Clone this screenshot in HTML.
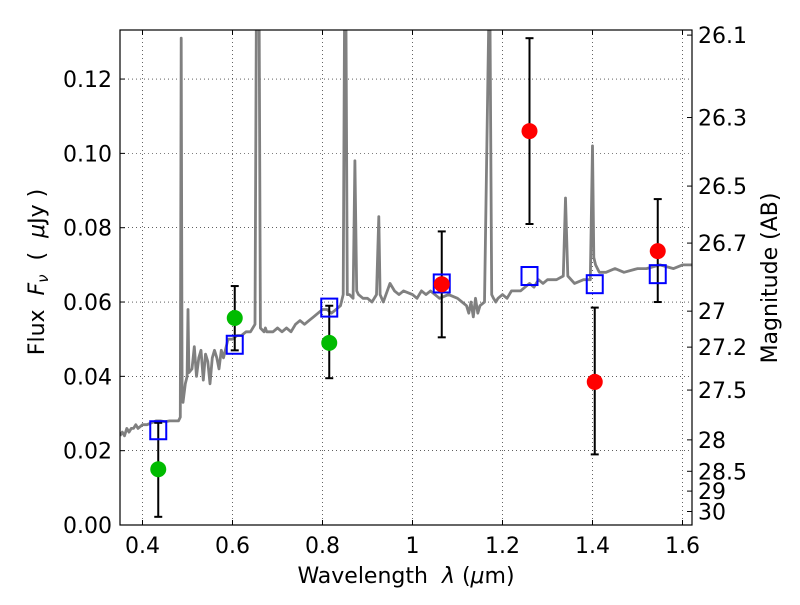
<!DOCTYPE html>
<html><head><meta charset="utf-8"><style>
body{margin:0;background:#fff}
svg text{font-family:"DejaVu Sans","Liberation Sans",sans-serif;fill:#000}
</style></head><body>
<svg id="chart" width="800" height="600" xmlns="http://www.w3.org/2000/svg"></svg>
<script>
const xTicks=[0.4,0.6,0.8,1,1.2,1.4,1.6];
const yTicks=[0,0.02,0.04,0.06,0.08,0.10,0.12];
const yTickLabels=["0.00","0.02","0.04","0.06","0.08","0.10","0.12"];
const magTicks=[26.1,26.3,26.5,26.7,27,27.2,27.5,28,28.5,29,30];
const specWl=[0.35,0.355,0.36,0.365,0.37,0.375,0.38,0.385,0.39,0.40,0.41,0.42,0.43,0.44,0.45,0.46,0.47,0.48,0.484,0.486,0.488,0.49,0.495,0.499,0.501,0.503,0.51,0.515,0.52,0.525,0.53,0.535,0.54,0.545,0.55,0.555,0.56,0.565,0.57,0.575,0.58,0.59,0.6,0.61,0.62,0.63,0.64,0.65,0.653,0.656,0.659,0.662,0.67,0.673,0.676,0.69,0.70,0.71,0.72,0.73,0.74,0.75,0.76,0.77,0.78,0.79,0.8,0.81,0.82,0.83,0.84,0.846,0.849,0.852,0.855,0.86,0.868,0.872,0.876,0.88,0.89,0.9,0.91,0.92,0.925,0.928,0.935,0.95,0.96,0.97,0.98,1.0,1.01,1.02,1.03,1.04,1.06,1.08,1.10,1.11,1.12,1.125,1.13,1.135,1.14,1.145,1.15,1.16,1.17,1.172,1.176,1.18,1.185,1.19,1.2,1.21,1.22,1.24,1.26,1.27,1.28,1.29,1.3,1.32,1.335,1.34,1.345,1.36,1.38,1.395,1.4,1.403,1.407,1.415,1.43,1.45,1.47,1.5,1.52,1.55,1.58,1.6,1.62];
const specFlux=[0.024,0.025,0.024,0.026,0.025,0.026,0.026,0.027,0.026,0.027,0.027,0.0275,0.028,0.028,0.0278,0.028,0.028,0.028,0.029,0.131,0.035,0.033,0.038,0.04,0.058,0.041,0.042,0.048,0.04,0.045,0.047,0.039,0.046,0.044,0.038,0.045,0.047,0.045,0.042,0.047,0.045,0.05,0.05,0.051,0.051,0.052,0.052,0.054,0.14,0.14,0.14,0.053,0.052,0.053,0.052,0.052,0.053,0.052,0.053,0.052,0.054,0.055,0.054,0.055,0.056,0.057,0.058,0.058,0.057,0.058,0.059,0.062,0.14,0.14,0.062,0.062,0.061,0.098,0.063,0.062,0.061,0.061,0.06,0.062,0.083,0.062,0.06,0.065,0.063,0.062,0.063,0.062,0.061,0.063,0.062,0.063,0.061,0.062,0.061,0.06,0.059,0.057,0.06,0.056,0.061,0.057,0.059,0.06,0.14,0.14,0.062,0.061,0.06,0.061,0.062,0.061,0.063,0.063,0.065,0.064,0.066,0.065,0.066,0.066,0.067,0.088,0.067,0.065,0.066,0.066,0.102,0.072,0.07,0.068,0.068,0.069,0.068,0.069,0.069,0.07,0.069,0.07,0.07];
const photWl=[0.435,0.605,0.815,1.065,1.26,1.405,1.545];
const photFlux=[0.015,0.0557,0.049,0.0648,0.106,0.0385,0.0737];
const photLo=[0.0022,0.047,0.0395,0.0505,0.081,0.019,0.06];
const photHi=[0.0275,0.0643,0.059,0.079,0.131,0.0585,0.0877];
const photColor=["#00bb00","#00bb00","#00bb00","#ff0000","#ff0000","#ff0000","#ff0000"];
const modelWl=[0.435,0.605,0.815,1.065,1.26,1.405,1.545];
const modelFlux=[0.0255,0.0485,0.0585,0.065,0.067,0.0648,0.0675];

const L=120,R=692,T=30,B=525,XMIN=0.35,YMAX=0.1332;
const xs=v=>L+(v-XMIN)*450;
const ys=v=>B-v*(B-T)/YMAX;
const mag2f=m=>Math.pow(10,(23.9-m)/2.5);
const NS="http://www.w3.org/2000/svg";
const svg=document.getElementById('chart');
function mk(tag,attrs,parent){const e=document.createElementNS(NS,tag);for(const k in attrs)e.setAttribute(k,attrs[k]);(parent||svg).appendChild(e);return e;}
const defs=mk('defs',{});const cp=mk('clipPath',{id:'clip'},defs);mk('rect',{x:L,y:T,width:R-L,height:B-T},cp);
const grid=mk('g',{stroke:'#000','stroke-width':0.6,'stroke-dasharray':'1,3'});


xTicks.forEach(v=>{const g=mk('line',{x1:xs(v),x2:xs(v),y1:T,y2:B},grid);

});
yTicks.forEach(v=>{const g=mk('line',{x1:L,x2:R,y1:ys(v),y2:ys(v)},grid);

});
let d='';specWl.forEach((w,i)=>{d+=(i?'L':'M')+xs(w).toFixed(1)+','+ys(specFlux[i]).toFixed(1);});
const sp=mk('path',{d:d,fill:'none',stroke:'#808080','stroke-width':2.8,'clip-path':'url(#clip)','stroke-linejoin':'round'});


photWl.forEach((w,i)=>{const g=mk('g',{stroke:'#000','stroke-width':2});


const x=xs(w);mk('line',{x1:x,x2:x,y1:ys(photLo[i]),y2:ys(photHi[i])},g);
mk('line',{x1:x-4,x2:x+4,y1:ys(photLo[i]),y2:ys(photLo[i])},g);
mk('line',{x1:x-4,x2:x+4,y1:ys(photHi[i]),y2:ys(photHi[i])},g);});
modelWl.forEach((w,i)=>{const r=mk('rect',{x:xs(w)-8,y:ys(modelFlux[i])-9,width:16,height:18,fill:'none',stroke:'#0000ff','stroke-width':2});

});
photWl.forEach((w,i)=>{const c=mk('circle',{cx:xs(w),cy:ys(photFlux[i]),r:8,fill:photColor[i]});

});
const fr=mk('rect',{x:L,y:T,width:R-L,height:B-T,fill:'none',stroke:'#000','stroke-width':1.2});


xTicks.forEach(v=>{const x=xs(v);mk('line',{x1:x,x2:x,y1:B,y2:B-5,stroke:'#000'});mk('line',{x1:x,x2:x,y1:T,y2:T+5,stroke:'#000'});
const t=mk('text',{x:x,y:B+28,'font-size':22,'text-anchor':'middle'});t.textContent=String(v);

});
yTicks.forEach((v,i)=>{const y=ys(v);mk('line',{x1:L,x2:L+5,y1:y,y2:y,stroke:'#000'});
const t=mk('text',{x:L-8,y:y+8,'font-size':22,'text-anchor':'end'});t.textContent=yTickLabels[i];

});
magTicks.forEach(m=>{const y=ys(mag2f(m));mk('line',{x1:R,x2:R-5,y1:y,y2:y,stroke:'#000'});
const t=mk('text',{x:R+6,y:y+8,'font-size':22});t.textContent=String(m);

});
</script>
<svg style="position:absolute;left:0;top:0" width="800" height="600">
<text x="406" y="583" font-size="22" text-anchor="middle" style="font-family:'DejaVu Sans',sans-serif" xml:space="preserve">Wavelength  <tspan font-style="italic">λ</tspan> (<tspan font-style="italic">μ</tspan>m)</text>
<text transform="translate(44,272) rotate(-90)" font-size="22" text-anchor="middle" style="font-family:'DejaVu Sans',sans-serif" xml:space="preserve">Flux  <tspan font-style="italic">F</tspan><tspan font-size="15" font-style="italic" dy="4">ν</tspan><tspan dy="-4">  (  </tspan><tspan font-style="italic">μ</tspan>Jy )</text>
<text transform="translate(777,278) rotate(-90)" font-size="22" text-anchor="middle" style="font-family:'DejaVu Sans',sans-serif">Magnitude (AB)</text>
</svg>
</body></html>
